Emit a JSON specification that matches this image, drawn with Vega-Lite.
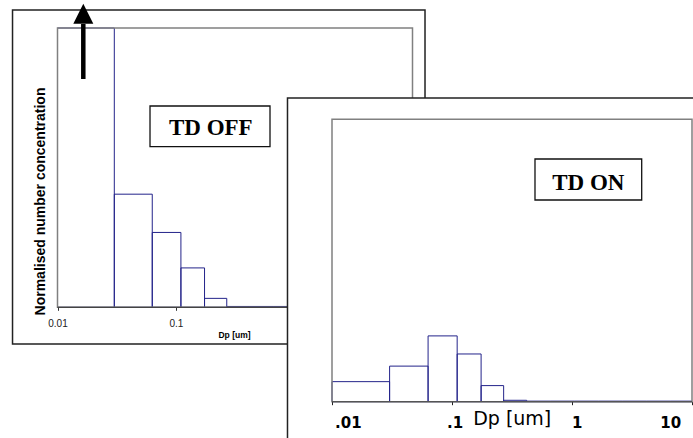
{
  "$schema": "https://vega.github.io/schema/vega-lite/v6.json",
  "width": 693,
  "height": 438,
  "padding": 0,
  "autosize": {"type": "none"},
  "background": "white",
  "config": {"view": {"stroke": null}, "axis": {"grid": false}},
  "datasets": {
    "off": [
      {"dp_lo": 0.01, "dp_hi": 0.0302, "conc": 1.0},
      {"dp_lo": 0.0302, "dp_hi": 0.0632, "conc": 0.405},
      {"dp_lo": 0.0632, "dp_hi": 0.1104, "conc": 0.268},
      {"dp_lo": 0.1104, "dp_hi": 0.1748, "conc": 0.141},
      {"dp_lo": 0.1748, "dp_hi": 0.2694, "conc": 0.032},
      {"dp_lo": 0.2694, "dp_hi": 0.419, "conc": 0.003},
      {"dp_lo": 0.419, "dp_hi": 0.666, "conc": 0.003},
      {"dp_lo": 0.666, "dp_hi": 1.056, "conc": 0.003},
      {"dp_lo": 1.056, "dp_hi": 1.67, "conc": 0.003},
      {"dp_lo": 1.67, "dp_hi": 2.65, "conc": 0.003},
      {"dp_lo": 2.65, "dp_hi": 4.2, "conc": 0.003},
      {"dp_lo": 4.2, "dp_hi": 6.66, "conc": 0.003},
      {"dp_lo": 6.66, "dp_hi": 10, "conc": 0.003}
    ],
    "on": [
      {"dp_lo": 0.01, "dp_hi": 0.0302, "conc": 0.071},
      {"dp_lo": 0.0302, "dp_hi": 0.0632, "conc": 0.126},
      {"dp_lo": 0.0632, "dp_hi": 0.1104, "conc": 0.233},
      {"dp_lo": 0.1104, "dp_hi": 0.1748, "conc": 0.169},
      {"dp_lo": 0.1748, "dp_hi": 0.2694, "conc": 0.057},
      {"dp_lo": 0.2694, "dp_hi": 0.419, "conc": 0.005},
      {"dp_lo": 0.419, "dp_hi": 0.666, "conc": 0.002},
      {"dp_lo": 0.666, "dp_hi": 1.056, "conc": 0.002},
      {"dp_lo": 1.056, "dp_hi": 1.67, "conc": 0.002},
      {"dp_lo": 1.67, "dp_hi": 2.65, "conc": 0.002},
      {"dp_lo": 2.65, "dp_hi": 4.2, "conc": 0.002},
      {"dp_lo": 4.2, "dp_hi": 6.66, "conc": 0.002},
      {"dp_lo": 6.66, "dp_hi": 10, "conc": 0.002}
    ]
  },
  "layer": [
    {
      "data": {"values": [{"k": 1}]},
      "mark": {"type": "rect", "filled": false, "stroke": "#222222", "strokeWidth": 1.5},
      "encoding": {
        "x": {"datum": 0.004168, "type": "quantitative", "scale": {"type": "log", "domain": [0.01, 10], "range": [57.5, 412.5]}, "axis": null},
        "x2": {"datum": 12.756},
        "y": {"datum": 1.06445, "type": "quantitative", "scale": {"domain": [0, 1], "range": [307.3, 28]}, "axis": null},
        "y2": {"datum": -0.1314}
      }
    },
    {
      "data": {"name": "off"},
      "mark": {"type": "rect", "filled": false, "stroke": "#23238a", "strokeWidth": 1},
      "encoding": {
        "x": {
          "field": "dp_lo", "type": "quantitative",
          "scale": {"type": "log", "domain": [0.01, 10], "range": [57.5, 412.5]},
          "axis": {
            "orient": "bottom", "offset": -130.7, "values": [0.01, 0.1, 1, 10], "format": "~g",
            "domain": false, "ticks": true, "tickSize": 3, "tickColor": "#333333", "tickWidth": 1,
            "labelFont": "Liberation Sans", "labelFontSize": 10, "labelColor": "#222222",
            "labelBaseline": "alphabetic", "labelPadding": 16.4, "labelOverlap": false,
            "labelFlush": false, "labelBound": false,
            "title": "Dp [um]", "titleFont": "Liberation Sans", "titleFontSize": 8.5,
            "titleFontWeight": "bold", "titleColor": "#000000", "titleBaseline": "alphabetic",
            "titleX": 234, "titleY": 30.2
          }
        },
        "x2": {"field": "dp_hi"},
        "y": {
          "field": "conc", "type": "quantitative",
          "scale": {"domain": [0, 1], "range": [307.3, 28]},
          "axis": {
            "orient": "left", "offset": -57.5, "domain": false, "ticks": false, "labels": false,
            "title": "Normalised number concentration", "titleFont": "Liberation Sans",
            "titleFontSize": 14, "titleFontWeight": "bold", "titleColor": "#000000",
            "titleBaseline": "alphabetic", "titleAlign": "center",
            "titleX": -13.5, "titleY": 201
          }
        },
        "y2": {"datum": 0}
      }
    },
    {
      "data": {"values": [{"k": 1}]},
      "mark": {"type": "rect", "filled": false, "stroke": "#808080", "strokeWidth": 1.5},
      "encoding": {
        "x": {"datum": 0.01, "type": "quantitative", "scale": {"type": "log", "domain": [0.01, 10], "range": [57.5, 412.5]}, "axis": null},
        "x2": {"datum": 10},
        "y": {"datum": 1, "type": "quantitative", "scale": {"domain": [0, 1], "range": [307.3, 28]}, "axis": null},
        "y2": {"datum": 0}
      }
    },
    {
      "data": {"values": [{"k": 1}]},
      "mark": {"type": "rule", "stroke": "#444444", "strokeWidth": 1.2},
      "encoding": {
        "x": {"datum": 0.01, "type": "quantitative", "scale": {"type": "log", "domain": [0.01, 10], "range": [57.5, 412.5]}, "axis": null},
        "x2": {"datum": 10},
        "y": {"datum": 0, "type": "quantitative", "scale": {"domain": [0, 1], "range": [307.3, 28]}, "axis": null}
      }
    },
    {
      "data": {"values": [{"k": 1}]},
      "mark": {"type": "rect", "filled": false, "stroke": "#111111", "strokeWidth": 1.3},
      "encoding": {
        "x": {"datum": 0.0605, "type": "quantitative", "scale": {"type": "log", "domain": [0.01, 10], "range": [57.5, 412.5]}, "axis": null},
        "x2": {"datum": 0.6249},
        "y": {"datum": 0.72073, "type": "quantitative", "scale": {"domain": [0, 1], "range": [307.3, 28]}, "axis": null},
        "y2": {"datum": 0.57501}
      }
    },
    {
      "data": {"values": [{"label": "TD OFF"}]},
      "mark": {"type": "text", "font": "Liberation Serif", "fontSize": 23, "fontWeight": "bold", "align": "center", "baseline": "alphabetic", "color": "#000000"},
      "encoding": {
        "x": {"datum": 0.1975, "type": "quantitative", "scale": {"type": "log", "domain": [0.01, 10], "range": [57.5, 412.5]}, "axis": null},
        "y": {"datum": 0.6169, "type": "quantitative", "scale": {"domain": [0, 1], "range": [307.3, 28]}, "axis": null},
        "text": {"field": "label", "type": "nominal"}
      }
    },
    {
      "data": {"values": [{"k": 1}]},
      "mark": {"type": "rule", "stroke": "#000000", "strokeWidth": 4.5},
      "encoding": {
        "x": {"datum": 0.01652, "type": "quantitative", "scale": {"type": "log", "domain": [0.01, 10], "range": [57.5, 412.5]}, "axis": null},
        "y": {"datum": 0.8174, "type": "quantitative", "scale": {"domain": [0, 1], "range": [307.3, 28]}, "axis": null},
        "y2": {"datum": 1.01432}
      }
    },
    {
      "data": {"values": [{"k": 1}]},
      "mark": {"type": "point", "shape": "M-1,1L1,1L0,-1Z", "filled": true, "color": "#000000", "size": 400, "opacity": 1},
      "encoding": {
        "x": {"datum": 0.01652, "type": "quantitative", "scale": {"type": "log", "domain": [0.01, 10], "range": [57.5, 412.5]}, "axis": null},
        "y": {"datum": 1.0512, "type": "quantitative", "scale": {"domain": [0, 1], "range": [307.3, 28]}, "axis": null}
      }
    },
    {
      "data": {"values": [{"k": 1}]},
      "mark": {"type": "rect", "fill": "white", "stroke": "#222222", "strokeWidth": 1.5},
      "encoding": {
        "x": {"datum": 0.004257, "type": "quantitative", "scale": {"type": "log", "domain": [0.01, 10], "range": [332, 692]}, "axis": null},
        "x2": {"datum": 12},
        "y": {"datum": 1.07543, "type": "quantitative", "scale": {"domain": [0, 1], "range": [401.7, 119.3]}, "axis": null},
        "y2": {"datum": -0.2}
      }
    },
    {
      "data": {"name": "on"},
      "mark": {"type": "rect", "filled": false, "stroke": "#23238a", "strokeWidth": 1},
      "encoding": {
        "x": {
          "field": "dp_lo", "type": "quantitative",
          "scale": {"type": "log", "domain": [0.01, 10], "range": [332, 692]},
          "axis": {
            "orient": "bottom", "offset": -36.3, "zindex": 1, "values": [0.01, 0.1, 1, 10], "format": "~g",
            "labelExpr": "replace(datum.label, '0.', '.')",
            "domain": false, "ticks": true, "tickSize": 3, "tickColor": "#222222", "tickWidth": 1,
            "labelFont": "DejaVu Sans", "labelFontSize": 15, "labelFontWeight": "bold", "labelColor": "#000000",
            "labelBaseline": "alphabetic", "labelPadding": 22.6,
            "labelOffset": {"expr": "datum.value == 0.01 ? 15.8 : datum.value == 10 ? -21.7 : datum.value == 1 ? 4.7 : 2.5"},
            "labelOverlap": false, "labelFlush": false, "labelBound": false,
            "title": "Dp [um]", "titleFont": "DejaVu Sans", "titleFontSize": 19, "titleFontWeight": "normal",
            "titleColor": "#000000", "titleBaseline": "alphabetic", "titleX": 511.7, "titleY": 22.3
          }
        },
        "x2": {"field": "dp_hi"},
        "y": {
          "field": "conc", "type": "quantitative",
          "scale": {"domain": [0, 1], "range": [401.7, 119.3]},
          "axis": null
        },
        "y2": {"datum": 0}
      }
    },
    {
      "data": {"values": [{"k": 1}]},
      "mark": {"type": "rect", "filled": false, "stroke": "#808080", "strokeWidth": 1.5},
      "encoding": {
        "x": {"datum": 0.01, "type": "quantitative", "scale": {"type": "log", "domain": [0.01, 10], "range": [332, 692]}, "axis": null},
        "x2": {"datum": 10},
        "y": {"datum": 1, "type": "quantitative", "scale": {"domain": [0, 1], "range": [401.7, 119.3]}, "axis": null},
        "y2": {"datum": 0}
      }
    },
    {
      "data": {"values": [{"k": 1}]},
      "mark": {"type": "rule", "stroke": "#555555", "strokeWidth": 1.3},
      "encoding": {
        "x": {"datum": 0.01, "type": "quantitative", "scale": {"type": "log", "domain": [0.01, 10], "range": [332, 692]}, "axis": null},
        "x2": {"datum": 10},
        "y": {"datum": 0, "type": "quantitative", "scale": {"domain": [0, 1], "range": [401.7, 119.3]}, "axis": null}
      }
    },
    {
      "data": {"values": [{"k": 1}]},
      "mark": {"type": "rect", "filled": false, "stroke": "#111111", "strokeWidth": 1.3},
      "encoding": {
        "x": {"datum": 0.4916, "type": "quantitative", "scale": {"type": "log", "domain": [0.01, 10], "range": [332, 692]}, "axis": null},
        "x2": {"datum": 3.8093},
        "y": {"datum": 0.85942, "type": "quantitative", "scale": {"domain": [0, 1], "range": [401.7, 119.3]}, "axis": null},
        "y2": {"datum": 0.71424}
      }
    },
    {
      "data": {"values": [{"label": "TD ON"}]},
      "mark": {"type": "text", "font": "Liberation Serif", "fontSize": 23, "fontWeight": "bold", "align": "center", "baseline": "alphabetic", "color": "#000000"},
      "encoding": {
        "x": {"datum": 1.3675, "type": "quantitative", "scale": {"type": "log", "domain": [0.01, 10], "range": [332, 692]}, "axis": null},
        "y": {"datum": 0.74965, "type": "quantitative", "scale": {"domain": [0, 1], "range": [401.7, 119.3]}, "axis": null},
        "text": {"field": "label", "type": "nominal"}
      }
    }
  ],
  "resolve": {
    "scale": {"x": "independent", "y": "independent"},
    "axis": {"x": "independent", "y": "independent"}
  }
}
